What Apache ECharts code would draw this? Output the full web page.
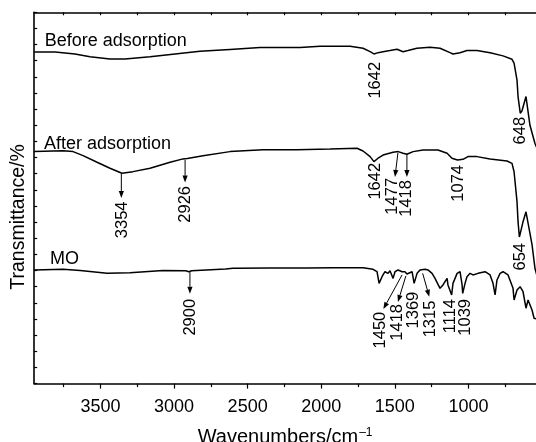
<!DOCTYPE html>
<html><head><meta charset="utf-8">
<script src="https://cdn.jsdelivr.net/npm/echarts@6/dist/echarts.min.js"></script>
<style>html,body{margin:0;padding:0;background:#fff}#c{width:536px;height:442px}</style>
</head><body><div id="c"></div>
<script>
// ---- data ----
const xTickValues = [1000,1500,2000,2500,3000,3500];
const xMinorTickValues = [750,1250,1750,2250,2750,3250,3750];
const xTopTickValues = [750,1000,1250,1500,1750,2000,2250,2500,2750,3000,3250,3500,3750];
const seriesNames = ['Before adsorption','After adsorption','MO'];

const beforeW = [3950,3808,3673,3571,3435,3333,3163,2993,2824,2620,2416,2144,2008,1804,1716,1668,1642,1614,1580,1533,1485,1444,1411,1350,1261,1193,1125,1105,1057,1010,942,853,765,704,690,670,663,648,636,609,582,548,500];
const beforeT = [20.54,20.54,20.42,20.24,20.11,20.11,20.25,20.42,20.58,20.70,20.82,20.82,20.89,20.89,20.77,20.56,20.42,20.50,20.56,20.63,20.71,20.56,20.63,20.77,20.84,20.77,20.50,20.42,20.50,20.63,20.63,20.50,20.30,20.09,19.85,18.80,17.78,16.75,16.90,17.78,16.00,14.87,13.90];

const afterW = [3950,3754,3686,3618,3523,3435,3354,3279,3163,3027,2939,2926,2910,2803,2620,2396,2165,1940,1757,1716,1668,1642,1614,1580,1512,1477,1444,1418,1376,1308,1207,1145,1112,1074,1037,1003,942,853,738,704,690,670,663,654,640,629,609,588,568,548,500];
const afterT = [14.37,14.43,14.37,14.12,13.71,13.34,13.03,13.13,13.34,13.71,13.92,13.85,13.95,14.12,14.37,14.49,14.49,14.53,14.58,14.41,14.06,13.75,13.96,14.16,14.33,14.37,14.27,14.21,14.37,14.47,14.47,14.27,13.96,13.85,13.89,14.06,14.06,13.91,13.79,13.64,13.12,11.27,10.03,9.08,9.60,10.03,10.64,9.60,8.61,7.14,5.50];

const moW = [3950,3754,3638,3455,3299,3075,2920,2900,2880,2650,2600,2590,2575,2350,2340,2325,2124,2115,2100,1925,1915,1900,1716,1648,1621,1607,1587,1567,1546,1533,1512,1499,1478,1451,1431,1418,1383,1369,1349,1329,1295,1275,1247,1227,1193,1173,1145,1139,1114,1105,1077,1057,1043,1039,1023,1010,989,969,935,887,853,833,819,806,785,765,731,697,690,670,649,629,609,595,568,554,541,500];
const moT = [7.04,7.08,7.00,6.83,6.87,7.00,6.99,6.93,6.99,7.10,7.14,7.24,7.14,7.16,7.24,7.16,7.16,7.24,7.16,7.18,7.26,7.18,7.18,7.08,6.93,6.21,6.62,6.93,6.83,6.99,6.52,6.93,7.04,6.93,6.93,6.79,6.93,6.21,6.83,7.04,7.08,7.04,6.83,6.52,5.90,6.11,6.52,6.11,5.49,6.21,6.83,6.93,6.11,5.59,6.21,6.62,6.83,6.73,6.83,6.93,6.73,6.21,5.49,6.42,6.83,6.93,6.73,5.90,5.18,5.80,6.00,5.69,4.67,5.18,4.56,4.05,4.11,3.90];

// peak annotation texts
const annTexts = ['1642','648','3354','2926','1642','1477','1418','1074','654','2900','1450','1418','1369','1315','1114','1039'];

// ---- layout (data-space anchors for annotations) ----
const annLayout = [
  {x:1634, top:19.93},
  {x:649,  top:16.52},
  {x:3353, top:11.28, arrow:[[3358,12.99],[3358,11.50]]},
  {x:2925, top:12.24, arrow:[[2925,13.85],[2925,12.45]]},
  {x:1635, top:13.67},
  {x:1513, top:12.74, arrow:[[1479,14.29],[1499,12.80]]},
  {x:1418, top:12.61, arrow:[[1418,14.22],[1418,12.80]]},
  {x:1071, top:13.54},
  {x:649,  top:8.71},
  {x:2891, top:5.25, arrow:[[2892,6.91],[2892,5.57]]},
  {x:1601, top:4.45, arrow:[[1451,6.73],[1578,4.62]]},
  {x:1479, top:4.93, arrow:[[1425,6.67],[1479,5.06]]},
  {x:1376, top:5.69},
  {x:1256, top:5.14, arrow:[[1311,6.83],[1266,5.38]]},
  {x:1120, top:5.24},
  {x:1023, top:5.24}
];
const nameLayout = [[3879,21.23],[3883,14.81],[3842,7.69]];

const FONT = '"Liberation Sans", Arial, Helvetica, sans-serif';
const zip = (a,b) => a.map((v,i)=>[v,b[i]]);

const chart = echarts.init(document.getElementById('c'), null, {renderer:'canvas'});
const lineSt = {color:'#000', width:1.6};
const xBase = {type:'value', min:541, max:3950, inverse:true, splitLine:{show:false}};

chart.setOption({
  animation:false,
  backgroundColor:'#fff',
  grid:{left:34.2, top:12.3, right:0, bottom:58.4, containLabel:false, outerBoundsMode:'none'},
  xAxis:[
    Object.assign({}, xBase, {
      position:'bottom',
      axisLine:{show:true, onZero:false, lineStyle:lineSt},
      axisTick:{show:true, length:5, customValues:xTickValues, lineStyle:{color:'#000', width:1.2}},
      axisLabel:{color:'#000', fontSize:18, fontFamily:FONT, margin:14, customValues:xTickValues,
        formatter: v => String(v)},
      name:'{a|Wavenumbers/cm}{b|\u20131}', nameLocation:'middle', nameGap:43,
      nameTextStyle:{color:'#000', rich:{
        a:{fontSize:20, fontFamily:FONT, color:'#000'},
        b:{fontSize:12, fontFamily:FONT, color:'#000', verticalAlign:'top', padding:[0,0,10,1]}
      }}
    }),
    Object.assign({}, xBase, {
      position:'bottom',
      axisLine:{show:false, onZero:false},
      axisTick:{show:true, length:3.5, customValues:xMinorTickValues, lineStyle:{color:'#000', width:1.2}},
      axisLabel:{show:false}
    }),
    Object.assign({}, xBase, {
      position:'top',
      axisLine:{show:true, onZero:false, lineStyle:lineSt},
      axisTick:{show:true, inside:true, length:3, customValues:xTopTickValues, lineStyle:{color:'#000', width:1.2}},
      axisLabel:{show:false}
    })
  ],
  yAxis:[{
    type:'value', min:0, max:23, interval:1,
    axisLine:{show:true, onZero:false, lineStyle:lineSt},
    axisTick:{show:true, inside:true, length:3, lineStyle:{color:'#000', width:1.2}},
    axisLabel:{show:false}, splitLine:{show:false},
    name:'Transmittance/%', nameLocation:'middle', nameGap:6,
    nameTextStyle:{color:'#000', fontSize:19.5, fontFamily:FONT, padding:[0,38,0,0]}
  }],
  series:[
    {name:seriesNames[0], type:'line', data:zip(beforeW,beforeT)},
    {name:seriesNames[1], type:'line', data:zip(afterW,afterT)},
    {name:seriesNames[2], type:'line', data:zip(moW,moT)}
  ].map(s => Object.assign(s, {showSymbol:false, symbol:'none', lineStyle:{color:'#000', width:1.5}, silent:true}))
});

// ---- annotations ----
const px = p => chart.convertToPixel({xAxisIndex:0, yAxisIndex:0}, p);
const graphics = [];
seriesNames.forEach((n,i) => {
  const p = px(nameLayout[i]);
  graphics.push({type:'text', x:p[0], y:p[1], style:{text:n, fill:'#000', font:'18px '+FONT, align:'left', verticalAlign:'middle'}});
});
annTexts.forEach((t,i) => {
  const L = annLayout[i];
  const p = px([L.x, L.top]);
  graphics.push({type:'text', x:p[0], y:p[1], rotation:Math.PI/2,
    style:{text:t, fill:'#000', font:'16.5px '+FONT, align:'right', verticalAlign:'middle'}});
  if (L.arrow) {
    const a = px(L.arrow[0]), b = px(L.arrow[1]);
    const dx=b[0]-a[0], dy=b[1]-a[1], len=Math.hypot(dx,dy), ux=dx/len, uy=dy/len;
    const hl=7, hw=2.6;
    const bx=b[0]-ux*hl, by=b[1]-uy*hl;
    graphics.push({type:'line', shape:{x1:a[0],y1:a[1],x2:bx,y2:by}, style:{stroke:'#000', lineWidth:1}});
    graphics.push({type:'polygon', shape:{points:[[b[0],b[1]],[bx-uy*hw,by+ux*hw],[bx+uy*hw,by-ux*hw]]}, style:{fill:'#000'}});
  }
});
chart.setOption({graphic:graphics});
</script></body></html>
